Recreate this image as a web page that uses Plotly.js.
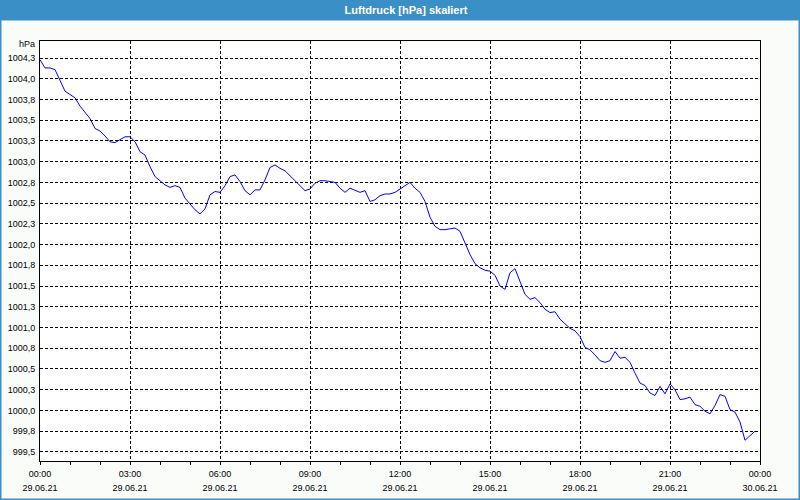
<!DOCTYPE html>
<html><head><meta charset="utf-8">
<script src="https://cdn.plot.ly/plotly-3.0.1.min.js"></script>
<style>html,body{margin:0;padding:0;background:#fafcfa;}#chart{width:800px;height:500px;}</style>
</head><body><div id="chart"></div>
<script>
const chartTitle = "Luftdruck [hPa] skaliert";
const unitLabel = "hPa";
const day = "2021-06-29";
const times = [
"00:00","00:10","00:20","00:30","00:40","00:50","01:00","01:10","01:20","01:30","01:40","01:50",
"02:00","02:10","02:20","02:30","02:40","02:50","03:00","03:10","03:20","03:30","03:40","03:50",
"04:00","04:10","04:20","04:30","04:40","04:50","05:00","05:10","05:20","05:30","05:40","05:50",
"06:00","06:10","06:20","06:30","06:40","06:50","07:00","07:10","07:20","07:30","07:40","07:50",
"08:00","08:10","08:20","08:30","08:40","08:50","09:00","09:10","09:20","09:30","09:40","09:50",
"10:00","10:10","10:20","10:30","10:40","10:50","11:00","11:10","11:20","11:30","11:40","11:50",
"12:00","12:10","12:20","12:30","12:40","12:50","13:00","13:10","13:20","13:30","13:40","13:50",
"14:00","14:10","14:20","14:30","14:40","14:50","15:00","15:10","15:20","15:30","15:40","15:50",
"16:00","16:10","16:20","16:30","16:40","16:50","17:00","17:10","17:20","17:30","17:40","17:50",
"18:00","18:10","18:20","18:30","18:40","18:50","19:00","19:10","19:20","19:30","19:40","19:50",
"20:00","20:10","20:20","20:30","20:40","20:50","21:00","21:10","21:20","21:30","21:40","21:50",
"22:00","22:10","22:20","22:30","22:40","22:50","23:00","23:10","23:20","23:30","23:40","23:50"];
const pressure = [
1004.23,1004.13,1004.13,1004.11,1003.98,1003.85, 1003.81,1003.77,1003.67,1003.60,1003.52,1003.40,
1003.37,1003.31,1003.24,1003.23,1003.26,1003.30, 1003.30,1003.24,1003.12,1003.08,1002.94,1002.82,
1002.77,1002.72,1002.69,1002.71,1002.69,1002.56, 1002.49,1002.42,1002.37,1002.43,1002.60,1002.64,
1002.63,1002.71,1002.82,1002.84,1002.76,1002.65, 1002.60,1002.66,1002.66,1002.78,1002.93,1002.96,
1002.92,1002.89,1002.83,1002.77,1002.72,1002.65, 1002.67,1002.74,1002.77,1002.77,1002.76,1002.75,
1002.68,1002.63,1002.68,1002.65,1002.63,1002.65, 1002.52,1002.54,1002.59,1002.61,1002.61,1002.63,
1002.67,1002.72,1002.75,1002.68,1002.63,1002.52, 1002.33,1002.22,1002.18,1002.18,1002.19,1002.20,
1002.16,1002.02,1001.88,1001.77,1001.72,1001.69, 1001.68,1001.63,1001.50,1001.46,1001.66,1001.71,
1001.55,1001.40,1001.34,1001.36,1001.30,1001.22, 1001.18,1001.19,1001.10,1001.05,1000.99,1000.96,
1000.89,1000.76,1000.73,1000.67,1000.60,1000.58, 1000.60,1000.71,1000.63,1000.64,1000.58,1000.45,
1000.33,1000.30,1000.21,1000.18,1000.29,1000.20, 1000.32,1000.25,1000.13,1000.14,1000.16,1000.07,
1000.05,999.99,999.96,1000.06,1000.19,1000.17, 1000.01,999.98,999.86,999.64,999.70,999.75];
const yTickVals = [999.5,999.75,1000,1000.25,1000.5,1000.75,1001,1001.25,1001.5,1001.75,1002,1002.25,1002.5,1002.75,1003,1003.25,1003.5,1003.75,1004,1004.25];
const yTickText = ["999,5","999,8","1000,0","1000,3","1000,5","1000,8","1001,0","1001,3","1001,5","1001,8","1002,0","1002,3","1002,5","1002,8","1003,0","1003,3","1003,5","1003,8","1004,0","1004,3"];
const xTickVals = ["2021-06-29 00:00","2021-06-29 03:00","2021-06-29 06:00","2021-06-29 09:00","2021-06-29 12:00","2021-06-29 15:00","2021-06-29 18:00","2021-06-29 21:00","2021-06-30 00:00"];
const xTickTimes = ["00:00","03:00","06:00","09:00","12:00","15:00","18:00","21:00","00:00"];
const xTickDates = ["29.06.21","29.06.21","29.06.21","29.06.21","29.06.21","29.06.21","29.06.21","29.06.21","30.06.21"];

const W = 800, H = 500, L = 40, R = 40, T = 41, B = 39;
const PW = W - L - R, PH = H - T - B;
const px = x => (x - L) / PW;
const py = y => (H - B - y) / PH;
const FONT = "Tahoma, 'Liberation Sans', Arial, sans-serif";
const blue = "#3b8fc7";

const xs = times.map(t => day + " " + t);

const traces = [
  {x: xs, y: pressure, type: "scatter", mode: "lines", line: {color: "#0000ff", width: 1}, hoverinfo: "x+y", showlegend: false},
  {x: [xTickVals[0]], y: [null], xaxis: "x2", type: "scatter", mode: "lines", showlegend: false, hoverinfo: "skip"}
];

const axFont = {family: FONT, size: 9, color: "#000"};
const layout = {
  width: W, height: H,
  margin: {l: L, r: R, t: T, b: B, pad: 0},
  paper_bgcolor: "#fafcfa",
  plot_bgcolor: "#ffffff",
  showlegend: false,
  title: {text: chartTitle, font: {family: FONT, size: 11, color: "#ffffff", weight: "bold"},
          xref: "container", yref: "container", x: 406 / W, y: 1 - 10.5 / H, xanchor: "center", yanchor: "middle"},
  xaxis: {
    type: "date", range: [xTickVals[0], xTickVals[xTickVals.length - 1]],
    tickmode: "array", tickvals: xTickVals, ticktext: xTickTimes, tickfont: axFont,
    ticks: "outside", ticklen: 3, tickcolor: "#000", tickwidth: 1,
    minor: {dtick: 3600000, ticks: "outside", ticklen: 3, tickcolor: "#000", tickwidth: 1, showgrid: false},
    showgrid: true, gridcolor: "#000", gridwidth: 1, griddash: "3px,2px",
    showline: true, mirror: true, linecolor: "#000", linewidth: 1, zeroline: false,
    ticklabelstandoff: 1, fixedrange: true
  },
  xaxis2: {
    type: "date", overlaying: "x", anchor: "y", side: "bottom",
    range: [xTickVals[0], xTickVals[xTickVals.length - 1]],
    tickmode: "array", tickvals: xTickVals, ticktext: xTickDates, tickfont: axFont,
    ticks: "", showgrid: false, showline: false, zeroline: false,
    ticklabelstandoff: 20, fixedrange: true
  },
  yaxis: {
    range: [999.39, 1004.455],
    tickmode: "array", tickvals: yTickVals, ticktext: yTickText, tickfont: axFont,
    ticks: "", showgrid: true, gridcolor: "#000", gridwidth: 1, griddash: "3px,2px",
    showline: true, mirror: true, linecolor: "#000", linewidth: 1, zeroline: false,
    ticklabelstandoff: 2, fixedrange: true
  },
  annotations: [
    {text: unitLabel, xref: "paper", yref: "paper", x: px(37), y: py(44.5), xanchor: "right", yanchor: "middle",
     showarrow: false, font: axFont}
  ],
  shapes: [
    {type: "rect", xref: "paper", yref: "paper", x0: px(0), x1: px(W), y0: py(20.5), y1: py(0),
     fillcolor: blue, line: {width: 0}, layer: "below"},
    {type: "rect", xref: "paper", yref: "paper", x0: px(0), x1: px(W), y0: py(H), y1: py(0),
     fillcolor: "rgba(0,0,0,0)", line: {color: blue, width: 3}, layer: "below"}
  ]
};
Plotly.newPlot("chart", traces, layout, {displayModeBar: false, staticPlot: true});
</script></body></html>
